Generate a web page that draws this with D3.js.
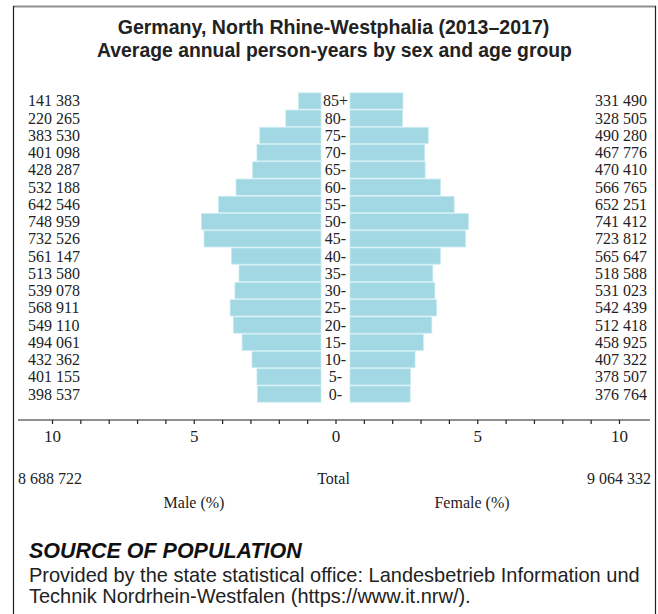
<!DOCTYPE html>
<html>
<head>
<meta charset="utf-8">
<script src="https://cdn.jsdelivr.net/npm/d3@7"></script>
<style>
  html, body { margin: 0; padding: 0; background: #fff; }
  svg { display: block; }
</style>
</head>
<body>
<svg id="chart" width="658" height="614"></svg>
<script>
// ---- data ----
const ageGroups = ["85+", "80-", "75-", "70-", "65-", "60-", "55-", "50-", "45-", "40-", "35-", "30-", "25-", "20-", "15-", "10-", "5-", "0-"];
const maleValues = [141383, 220265, 383530, 401098, 428287, 532188, 642546, 748959, 732526, 561147, 513580, 539078, 568911, 549110, 494061, 432362, 401155, 398537];
const femaleValues = [331490, 328505, 490280, 467776, 470410, 566765, 652251, 741412, 723812, 565647, 518588, 531023, 542439, 512418, 458925, 407322, 378507, 376764];
const maleTotal = 8688722;
const femaleTotal = 9064332;
const axisTicks = [-10, -9, -8, -7, -6, -5, -4, -3, -2, -1, 0, 1, 2, 3, 4, 5, 6, 7, 8, 9, 10];
const axisLabelTicks = [-10, -5, 0, 5, 10];
const titleLines = ["Germany, North Rhine-Westphalia (2013\u20132017)", "Average annual person-years by sex and age group"];
const sourceTitle = "SOURCE OF POPULATION";
const sourceLines = ["Provided by the state statistical office: Landesbetrieb Information und", "Technik Nordrhein-Westfalen (https://www.it.nrw/)."];

// ---- setup ----
const svg = d3.select("#chart");
const serif = "'Liberation Serif', 'Times New Roman', serif";
const sans = "'Liberation Sans', Arial, sans-serif";
const textColor = "#222";
const barColor = "#a1d8e3";
const grandTotal = maleTotal + femaleTotal;
const loc = d3.formatLocale({decimal: ".", thousands: " ", grouping: [3], currency: ["", ""]});
const fmt = loc.format(",d");

// frame
svg.append("line").attr("x1", 13).attr("x2", 656).attr("y1", 6.5).attr("y2", 6.5)
  .attr("stroke", "#8f8f8f").attr("stroke-width", 2);
svg.append("line").attr("x1", 13.5).attr("x2", 13.5).attr("y1", 6).attr("y2", 614)
  .attr("stroke", "#222").attr("stroke-width", 1.2);
svg.append("line").attr("x1", 655.5).attr("x2", 655.5).attr("y1", 6).attr("y2", 614)
  .attr("stroke", "#222").attr("stroke-width", 1.2);

function fitText(sel, target) {
  const len = sel.node().getComputedTextLength();
  const fs = parseFloat(sel.attr("font-size"));
  sel.attr("font-size", fs * target / len);
}

// titles
const t1 = svg.append("text").attr("x", 333.5).attr("y", 34).attr("text-anchor", "middle")
  .attr("font-family", sans).attr("font-weight", "bold").attr("font-size", 18)
  .attr("fill", textColor).text(titleLines[0]);
fitText(t1, 432);
const t2 = svg.append("text").attr("x", 334.5).attr("y", 57).attr("text-anchor", "middle")
  .attr("font-family", sans).attr("font-weight", "bold").attr("font-size", 18)
  .attr("fill", textColor).text(titleLines[1]);
fitText(t2, 475);

// scales
const y = d3.scaleBand().domain(ageGroups).range([92.5, 402.5]).paddingInner(0.06).paddingOuter(0.02);
const pxPerPct = 28.35;
const xMale = d3.scaleLinear().domain([0, 10]).range([321, 321 - 10 * pxPerPct]);
const xFemale = d3.scaleLinear().domain([0, 10]).range([350, 350 + 10 * pxPerPct]);
const xAxisScale = d3.scaleLinear().domain([-10, 10]).range([335.5 - 10 * pxPerPct, 335.5 + 10 * pxPerPct]);

const maleData = ageGroups.map((a, i) => ({age: a, v: maleValues[i], pct: maleValues[i] / grandTotal * 100}));
const femaleData = ageGroups.map((a, i) => ({age: a, v: femaleValues[i], pct: femaleValues[i] / grandTotal * 100}));

// bars
svg.append("g").selectAll("rect").data(maleData).join("rect")
  .attr("x", d => xMale(d.pct)).attr("y", d => y(d.age))
  .attr("width", d => xMale(0) - xMale(d.pct)).attr("height", y.bandwidth())
  .attr("fill", barColor).attr("stroke", "#c9ebf1").attr("stroke-width", 0.8);
svg.append("g").selectAll("rect").data(femaleData).join("rect")
  .attr("x", d => xFemale(0)).attr("y", d => y(d.age))
  .attr("width", d => xFemale(d.pct) - xFemale(0)).attr("height", y.bandwidth())
  .attr("fill", barColor).attr("stroke", "#c9ebf1").attr("stroke-width", 0.8);

// row labels
const rowFont = 16;
svg.append("g").selectAll("text").data(maleData).join("text")
  .attr("x", 28).attr("y", d => y(d.age) + y.bandwidth() / 2 + 5.5)
  .attr("font-family", serif).attr("font-size", rowFont).attr("fill", textColor)
  .text(d => fmt(d.v));
svg.append("g").selectAll("text").data(femaleData).join("text")
  .attr("x", 647).attr("y", d => y(d.age) + y.bandwidth() / 2 + 5.5).attr("text-anchor", "end")
  .attr("font-family", serif).attr("font-size", rowFont).attr("fill", textColor)
  .text(d => fmt(d.v));
svg.append("g").selectAll("text").data(ageGroups).join("text")
  .attr("x", 335.5).attr("y", d => y(d) + y.bandwidth() / 2 + 5.5).attr("text-anchor", "middle")
  .attr("font-family", serif).attr("font-size", rowFont).attr("fill", textColor)
  .text(d => d);

// axis
const axisY = 420;
svg.append("line").attr("x1", 18).attr("x2", 650).attr("y1", axisY).attr("y2", axisY)
  .attr("stroke", "#222").attr("stroke-width", 1.2);
const axis = d3.axisBottom(xAxisScale).tickValues(axisTicks).tickSize(4).tickSizeOuter(0)
  .tickFormat(d => axisLabelTicks.includes(d) ? Math.abs(d) : "");
const gAxis = svg.append("g").attr("transform", `translate(0,${axisY})`).call(axis);
gAxis.select(".domain").remove();
gAxis.selectAll(".tick line").attr("stroke", "#222").attr("stroke-width", 1.2);
gAxis.selectAll(".tick text").attr("font-family", serif).attr("font-size", 17)
  .attr("fill", textColor).attr("y", 10).attr("dy", "0.71em");

// totals
svg.append("text").attr("x", 18).attr("y", 484).attr("font-family", serif).attr("font-size", 16)
  .attr("fill", textColor).text(fmt(maleTotal));
svg.append("text").attr("x", 651).attr("y", 484).attr("text-anchor", "end").attr("font-family", serif)
  .attr("font-size", 16).attr("fill", textColor).text(fmt(femaleTotal));
svg.append("text").attr("x", 333.5).attr("y", 484).attr("text-anchor", "middle").attr("font-family", serif)
  .attr("font-size", 16).attr("fill", textColor).text("Total");
svg.append("text").attr("x", 194).attr("y", 508).attr("text-anchor", "middle").attr("font-family", serif)
  .attr("font-size", 16).attr("fill", textColor).text("Male (%)");
svg.append("text").attr("x", 472).attr("y", 508).attr("text-anchor", "middle").attr("font-family", serif)
  .attr("font-size", 16).attr("fill", textColor).text("Female (%)");

// source
const s0 = svg.append("text").attr("x", 29).attr("y", 558).attr("font-family", sans)
  .attr("font-weight", "bold").attr("font-style", "italic").attr("font-size", 19)
  .attr("fill", "#111").text(sourceTitle);
fitText(s0, 273);
const s1 = svg.append("text").attr("x", 29).attr("y", 582).attr("font-family", sans)
  .attr("font-size", 17).attr("fill", "#222").text(sourceLines[0]);
fitText(s1, 611);
const s2 = svg.append("text").attr("x", 29).attr("y", 603).attr("font-family", sans)
  .attr("font-size", parseFloat(s1.attr("font-size"))).attr("fill", "#222").text(sourceLines[1]);
</script>
</body>
</html>
